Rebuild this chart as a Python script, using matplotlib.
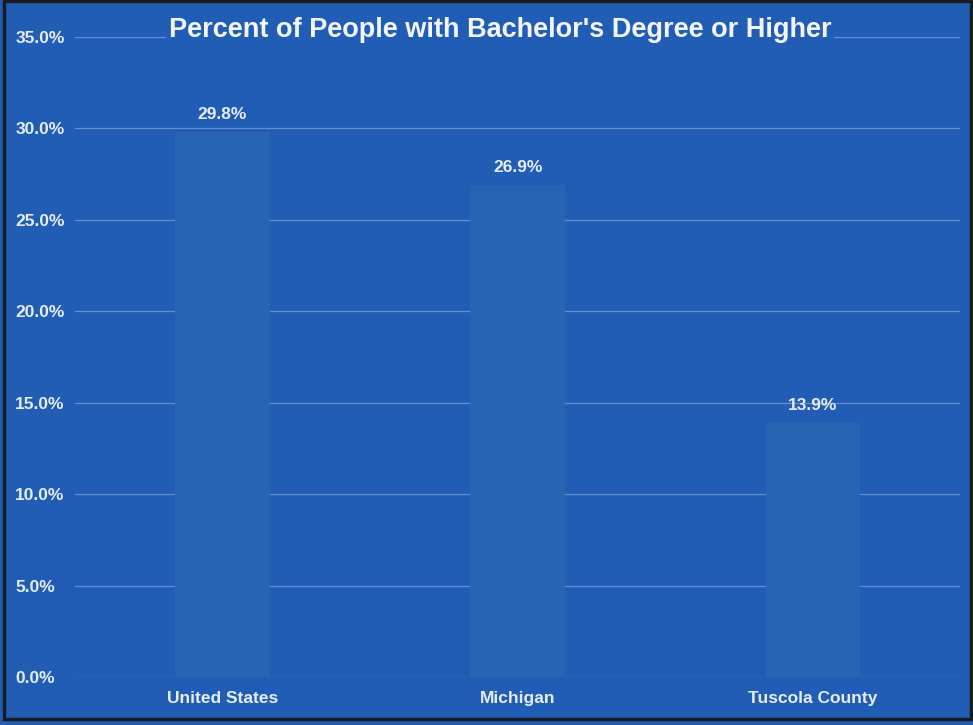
import matplotlib
matplotlib.use("Agg")
import matplotlib.pyplot as plt
from matplotlib.ticker import FuncFormatter
from matplotlib.patches import Rectangle

categories = ["United States", "Michigan", "Tuscola County"]
pct_bachelor = [29.8, 26.9, 13.9]
y_ticks = [0, 5, 10, 15, 20, 25, 30, 35]

bg = "#215db5"
bar_col = "#2764b2"
txt = "#e6edf8"

plt.rcParams["font.family"] = ["Liberation Sans", "DejaVu Sans"]
plt.rcParams["font.weight"] = "bold"

fig = plt.figure(figsize=(9.73, 7.25), dpi=100, facecolor=bg)
ax = fig.add_axes([0.077, 0.066, 0.91, 0.883])
ax.set_facecolor(bg)

x = range(len(categories))
bars = ax.bar(x, pct_bachelor, width=0.32, color=bar_col, zorder=3)

ax.set_xlim(-0.5, 2.5)
ax.set_ylim(0, 35)
ax.set_yticks(y_ticks)
ax.yaxis.set_major_formatter(FuncFormatter(lambda v, p: "%.1f%%" % v))
ax.set_xticks(list(x))
ax.set_xticklabels(categories)
ax.tick_params(axis="both", length=0, colors=txt, labelsize=12.5)
ax.tick_params(axis="y", pad=43)
ax.tick_params(axis="x", pad=10)
plt.setp(ax.get_yticklabels(), ha="left")

ax.grid(axis="y", color="#a9c1e6", linewidth=0.9, alpha=0.5, zorder=1)
ax.set_axisbelow(True)
for s in ax.spines.values():
    s.set_visible(False)

for b, v in zip(bars, pct_bachelor):
    ax.annotate("%.1f%%" % v, (b.get_x() + b.get_width() / 2, v),
                xytext=(0, 7), textcoords="offset points",
                ha="center", va="bottom", color=txt, fontsize=12.5,
                fontweight="bold", zorder=5)

fig.text(0.514, 0.958, "Percent of People with Bachelor's Degree or Higher",
         ha="center", va="center", color="#f2f5fb", fontsize=19.5,
         fontweight="bold",
         bbox=dict(facecolor=bg, edgecolor="none", pad=2))

# dark scan border
fig.patches.append(Rectangle((0.004, 0.008), 0.994, 0.99, transform=fig.transFigure,
                             fill=False, edgecolor="#1a1a22", linewidth=2.5))

fig.savefig("out.png", dpi=100, facecolor=bg)
